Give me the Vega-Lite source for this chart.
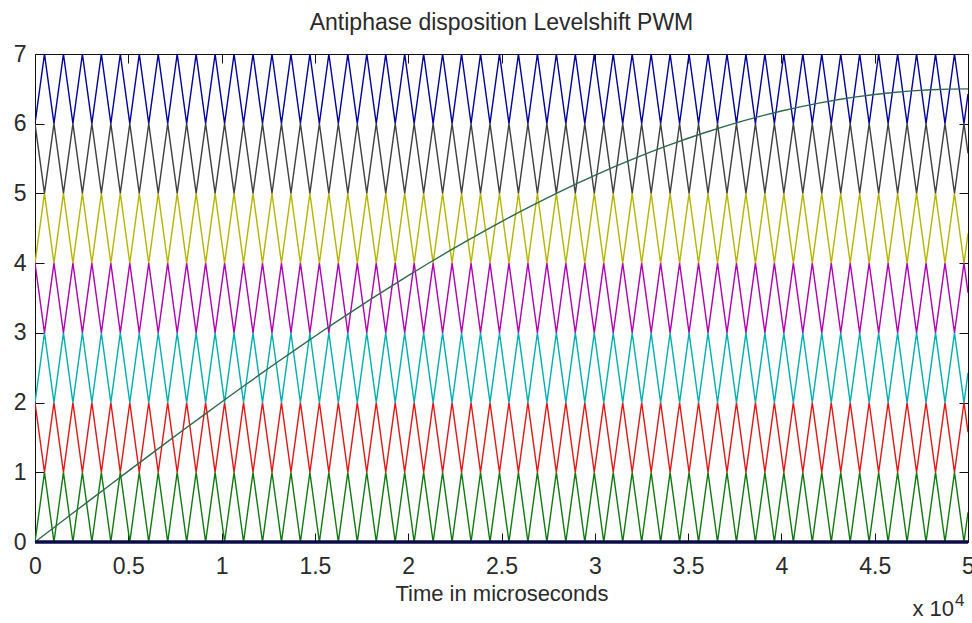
{
  "$schema": "https://vega.github.io/schema/vega-lite/v6.json",
  "width": 933,
  "height": 488,
  "autosize": {"type": "none"},
  "padding": {"left": 35, "top": 54, "right": 4, "bottom": 81},
  "background": "white",
  "config": {
    "view": {"stroke": "#111", "strokeWidth": 1},
    "font": "Liberation Sans",
    "axis": {"grid": false, "labelFont": "Liberation Sans", "titleFont": "Liberation Sans", "labelColor": "#2a2a2a", "titleColor": "#2a2a2a", "tickColor": "#111", "domain": false}
  },
  "title": {"text": "Antiphase disposition Levelshift PWM", "fontSize": 23, "fontWeight": "normal", "color": "#2a2a2a", "font": "Liberation Sans", "anchor": "middle", "offset": 8},
  "datasets": {
    "carriers": [
      {"t":0,"a":0,"b":2,"c":2,"d":4,"e":4,"f":6,"g":6},
      {"t":508,"a":1,"b":1,"c":3,"d":3,"e":5,"f":5,"g":7},
      {"t":1016,"a":0,"b":2,"c":2,"d":4,"e":4,"f":6,"g":6},
      {"t":1524,"a":1,"b":1,"c":3,"d":3,"e":5,"f":5,"g":7},
      {"t":2032,"a":0,"b":2,"c":2,"d":4,"e":4,"f":6,"g":6},
      {"t":2540,"a":1,"b":1,"c":3,"d":3,"e":5,"f":5,"g":7},
      {"t":3048,"a":0,"b":2,"c":2,"d":4,"e":4,"f":6,"g":6},
      {"t":3556,"a":1,"b":1,"c":3,"d":3,"e":5,"f":5,"g":7},
      {"t":4064,"a":0,"b":2,"c":2,"d":4,"e":4,"f":6,"g":6},
      {"t":4572,"a":1,"b":1,"c":3,"d":3,"e":5,"f":5,"g":7},
      {"t":5080,"a":0,"b":2,"c":2,"d":4,"e":4,"f":6,"g":6},
      {"t":5588,"a":1,"b":1,"c":3,"d":3,"e":5,"f":5,"g":7},
      {"t":6096,"a":0,"b":2,"c":2,"d":4,"e":4,"f":6,"g":6},
      {"t":6604,"a":1,"b":1,"c":3,"d":3,"e":5,"f":5,"g":7},
      {"t":7112,"a":0,"b":2,"c":2,"d":4,"e":4,"f":6,"g":6},
      {"t":7620,"a":1,"b":1,"c":3,"d":3,"e":5,"f":5,"g":7},
      {"t":8128,"a":0,"b":2,"c":2,"d":4,"e":4,"f":6,"g":6},
      {"t":8636,"a":1,"b":1,"c":3,"d":3,"e":5,"f":5,"g":7},
      {"t":9144,"a":0,"b":2,"c":2,"d":4,"e":4,"f":6,"g":6},
      {"t":9652,"a":1,"b":1,"c":3,"d":3,"e":5,"f":5,"g":7},
      {"t":10160,"a":0,"b":2,"c":2,"d":4,"e":4,"f":6,"g":6},
      {"t":10668,"a":1,"b":1,"c":3,"d":3,"e":5,"f":5,"g":7},
      {"t":11176,"a":0,"b":2,"c":2,"d":4,"e":4,"f":6,"g":6},
      {"t":11684,"a":1,"b":1,"c":3,"d":3,"e":5,"f":5,"g":7},
      {"t":12192,"a":0,"b":2,"c":2,"d":4,"e":4,"f":6,"g":6},
      {"t":12700,"a":1,"b":1,"c":3,"d":3,"e":5,"f":5,"g":7},
      {"t":13208,"a":0,"b":2,"c":2,"d":4,"e":4,"f":6,"g":6},
      {"t":13716,"a":1,"b":1,"c":3,"d":3,"e":5,"f":5,"g":7},
      {"t":14224,"a":0,"b":2,"c":2,"d":4,"e":4,"f":6,"g":6},
      {"t":14732,"a":1,"b":1,"c":3,"d":3,"e":5,"f":5,"g":7},
      {"t":15240,"a":0,"b":2,"c":2,"d":4,"e":4,"f":6,"g":6},
      {"t":15748,"a":1,"b":1,"c":3,"d":3,"e":5,"f":5,"g":7},
      {"t":16256,"a":0,"b":2,"c":2,"d":4,"e":4,"f":6,"g":6},
      {"t":16764,"a":1,"b":1,"c":3,"d":3,"e":5,"f":5,"g":7},
      {"t":17272,"a":0,"b":2,"c":2,"d":4,"e":4,"f":6,"g":6},
      {"t":17780,"a":1,"b":1,"c":3,"d":3,"e":5,"f":5,"g":7},
      {"t":18288,"a":0,"b":2,"c":2,"d":4,"e":4,"f":6,"g":6},
      {"t":18796,"a":1,"b":1,"c":3,"d":3,"e":5,"f":5,"g":7},
      {"t":19304,"a":0,"b":2,"c":2,"d":4,"e":4,"f":6,"g":6},
      {"t":19812,"a":1,"b":1,"c":3,"d":3,"e":5,"f":5,"g":7},
      {"t":20320,"a":0,"b":2,"c":2,"d":4,"e":4,"f":6,"g":6},
      {"t":20828,"a":1,"b":1,"c":3,"d":3,"e":5,"f":5,"g":7},
      {"t":21336,"a":0,"b":2,"c":2,"d":4,"e":4,"f":6,"g":6},
      {"t":21844,"a":1,"b":1,"c":3,"d":3,"e":5,"f":5,"g":7},
      {"t":22352,"a":0,"b":2,"c":2,"d":4,"e":4,"f":6,"g":6},
      {"t":22860,"a":1,"b":1,"c":3,"d":3,"e":5,"f":5,"g":7},
      {"t":23368,"a":0,"b":2,"c":2,"d":4,"e":4,"f":6,"g":6},
      {"t":23876,"a":1,"b":1,"c":3,"d":3,"e":5,"f":5,"g":7},
      {"t":24384,"a":0,"b":2,"c":2,"d":4,"e":4,"f":6,"g":6},
      {"t":24892,"a":1,"b":1,"c":3,"d":3,"e":5,"f":5,"g":7},
      {"t":25400,"a":0,"b":2,"c":2,"d":4,"e":4,"f":6,"g":6},
      {"t":25908,"a":1,"b":1,"c":3,"d":3,"e":5,"f":5,"g":7},
      {"t":26416,"a":0,"b":2,"c":2,"d":4,"e":4,"f":6,"g":6},
      {"t":26924,"a":1,"b":1,"c":3,"d":3,"e":5,"f":5,"g":7},
      {"t":27432,"a":0,"b":2,"c":2,"d":4,"e":4,"f":6,"g":6},
      {"t":27940,"a":1,"b":1,"c":3,"d":3,"e":5,"f":5,"g":7},
      {"t":28448,"a":0,"b":2,"c":2,"d":4,"e":4,"f":6,"g":6},
      {"t":28956,"a":1,"b":1,"c":3,"d":3,"e":5,"f":5,"g":7},
      {"t":29464,"a":0,"b":2,"c":2,"d":4,"e":4,"f":6,"g":6},
      {"t":29972,"a":1,"b":1,"c":3,"d":3,"e":5,"f":5,"g":7},
      {"t":30480,"a":0,"b":2,"c":2,"d":4,"e":4,"f":6,"g":6},
      {"t":30988,"a":1,"b":1,"c":3,"d":3,"e":5,"f":5,"g":7},
      {"t":31496,"a":0,"b":2,"c":2,"d":4,"e":4,"f":6,"g":6},
      {"t":32004,"a":1,"b":1,"c":3,"d":3,"e":5,"f":5,"g":7},
      {"t":32512,"a":0,"b":2,"c":2,"d":4,"e":4,"f":6,"g":6},
      {"t":33020,"a":1,"b":1,"c":3,"d":3,"e":5,"f":5,"g":7},
      {"t":33528,"a":0,"b":2,"c":2,"d":4,"e":4,"f":6,"g":6},
      {"t":34036,"a":1,"b":1,"c":3,"d":3,"e":5,"f":5,"g":7},
      {"t":34544,"a":0,"b":2,"c":2,"d":4,"e":4,"f":6,"g":6},
      {"t":35052,"a":1,"b":1,"c":3,"d":3,"e":5,"f":5,"g":7},
      {"t":35560,"a":0,"b":2,"c":2,"d":4,"e":4,"f":6,"g":6},
      {"t":36068,"a":1,"b":1,"c":3,"d":3,"e":5,"f":5,"g":7},
      {"t":36576,"a":0,"b":2,"c":2,"d":4,"e":4,"f":6,"g":6},
      {"t":37084,"a":1,"b":1,"c":3,"d":3,"e":5,"f":5,"g":7},
      {"t":37592,"a":0,"b":2,"c":2,"d":4,"e":4,"f":6,"g":6},
      {"t":38100,"a":1,"b":1,"c":3,"d":3,"e":5,"f":5,"g":7},
      {"t":38608,"a":0,"b":2,"c":2,"d":4,"e":4,"f":6,"g":6},
      {"t":39116,"a":1,"b":1,"c":3,"d":3,"e":5,"f":5,"g":7},
      {"t":39624,"a":0,"b":2,"c":2,"d":4,"e":4,"f":6,"g":6},
      {"t":40132,"a":1,"b":1,"c":3,"d":3,"e":5,"f":5,"g":7},
      {"t":40640,"a":0,"b":2,"c":2,"d":4,"e":4,"f":6,"g":6},
      {"t":41148,"a":1,"b":1,"c":3,"d":3,"e":5,"f":5,"g":7},
      {"t":41656,"a":0,"b":2,"c":2,"d":4,"e":4,"f":6,"g":6},
      {"t":42164,"a":1,"b":1,"c":3,"d":3,"e":5,"f":5,"g":7},
      {"t":42672,"a":0,"b":2,"c":2,"d":4,"e":4,"f":6,"g":6},
      {"t":43180,"a":1,"b":1,"c":3,"d":3,"e":5,"f":5,"g":7},
      {"t":43688,"a":0,"b":2,"c":2,"d":4,"e":4,"f":6,"g":6},
      {"t":44196,"a":1,"b":1,"c":3,"d":3,"e":5,"f":5,"g":7},
      {"t":44704,"a":0,"b":2,"c":2,"d":4,"e":4,"f":6,"g":6},
      {"t":45212,"a":1,"b":1,"c":3,"d":3,"e":5,"f":5,"g":7},
      {"t":45720,"a":0,"b":2,"c":2,"d":4,"e":4,"f":6,"g":6},
      {"t":46228,"a":1,"b":1,"c":3,"d":3,"e":5,"f":5,"g":7},
      {"t":46736,"a":0,"b":2,"c":2,"d":4,"e":4,"f":6,"g":6},
      {"t":47244,"a":1,"b":1,"c":3,"d":3,"e":5,"f":5,"g":7},
      {"t":47752,"a":0,"b":2,"c":2,"d":4,"e":4,"f":6,"g":6},
      {"t":48260,"a":1,"b":1,"c":3,"d":3,"e":5,"f":5,"g":7},
      {"t":48768,"a":0,"b":2,"c":2,"d":4,"e":4,"f":6,"g":6},
      {"t":49276,"a":1,"b":1,"c":3,"d":3,"e":5,"f":5,"g":7},
      {"t":49784,"a":0,"b":2,"c":2,"d":4,"e":4,"f":6,"g":6},
      {"t":50000,"a":0.425,"b":1.575,"c":2.425,"d":3.575,"e":4.425,"f":5.575,"g":6.425}
    ],
    "ref": [
      {"t":0,"v":0},{"t":1000,"v":0.2042},{"t":2000,"v":0.4081},{"t":3000,"v":0.6117},{"t":4000,"v":0.8147},
      {"t":5000,"v":1.0168},{"t":6000,"v":1.218},{"t":7000,"v":1.4179},{"t":8000,"v":1.6165},{"t":9000,"v":1.8134},
      {"t":10000,"v":2.0086},{"t":11000,"v":2.2018},{"t":12000,"v":2.3928},{"t":13000,"v":2.5815},{"t":14000,"v":2.7676},
      {"t":15000,"v":2.9509},{"t":16000,"v":3.1314},{"t":17000,"v":3.3088},{"t":18000,"v":3.4829},{"t":19000,"v":3.6535},
      {"t":20000,"v":3.8206},{"t":21000,"v":3.9839},{"t":22000,"v":4.1433},{"t":23000,"v":4.2985},{"t":24000,"v":4.4496},
      {"t":25000,"v":4.5962},{"t":26000,"v":4.7383},{"t":27000,"v":4.8757},{"t":28000,"v":5.0083},{"t":29000,"v":5.136},
      {"t":30000,"v":5.2586},{"t":31000,"v":5.376},{"t":32000,"v":5.4881},{"t":33000,"v":5.5948},{"t":34000,"v":5.696},
      {"t":35000,"v":5.7915},{"t":36000,"v":5.8814},{"t":37000,"v":5.9654},{"t":38000,"v":6.0435},{"t":39000,"v":6.1157},
      {"t":40000,"v":6.1819},{"t":41000,"v":6.2419},{"t":42000,"v":6.2958},{"t":43000,"v":6.3435},{"t":44000,"v":6.3849},
      {"t":45000,"v":6.42},{"t":46000,"v":6.4487},{"t":47000,"v":6.4712},{"t":48000,"v":6.4872},{"t":49000,"v":6.4968},
      {"t":50000,"v":6.5}
    ],
    "base": [{"t":0,"v":0},{"t":50000,"v":0}],
    "note": [{"t":50000,"v":0,"label":"x 10","sup":"4"}]
  },
  "layer": [
    {
      "data": {"name": "carriers"},
      "transform": [{"fold": ["a","b","c","d","e","f","g"], "as": ["band","v"]}],
      "mark": {"type": "line", "strokeWidth": 1.4, "clip": true},
      "encoding": {
        "x": {"field": "t", "type": "quantitative", "scale": {"domain": [0, 50000], "nice": false, "zero": false},
              "axis": {"orient": "bottom", "values": [0,5000,10000,15000,20000,25000,30000,35000,40000,45000,50000],
                       "labelExpr": "'' + datum.value / 10000", "labelFontSize": 23, "labelFlush": false,
                       "tickSize": -9, "labelPadding": 22, "title": "Time in microseconds", "titleFontSize": 22,
                       "titleFontWeight": "normal", "titlePadding": 5}},
        "y": {"field": "v", "type": "quantitative", "scale": {"domain": [0, 7], "nice": false, "zero": false},
              "axis": {"orient": "left", "values": [0,1,2,3,4,5,6,7], "labelFontSize": 23, "labelFlush": false,
                       "tickSize": -9, "labelPadding": 18, "title": null}},
        "color": {"field": "band", "type": "nominal", "legend": null,
                  "scale": {"domain": ["a","b","c","d","e","f","g"],
                            "range": ["#107a10", "#e01818", "#00b0b0", "#b000b0", "#b5b500", "#404040", "#00009c"]}}
      }
    },
    {
      "data": {"name": "ref"},
      "mark": {"type": "line", "strokeWidth": 1.4, "color": "#2f6a4c"},
      "encoding": {
        "x": {"field": "t", "type": "quantitative",
              "axis": {"orient": "top", "values": [0,5000,10000,15000,20000,25000,30000,35000,40000,45000,50000],
                       "labels": false, "tickSize": -9, "title": null}},
        "y": {"field": "v", "type": "quantitative",
              "axis": {"orient": "right", "values": [0,1,2,3,4,5,6,7], "labels": false, "tickSize": -9, "title": null}}
      }
    },
    {
      "data": {"name": "base"},
      "mark": {"type": "line", "strokeWidth": 3.5, "color": "#0c0c4a"},
      "encoding": {
        "x": {"field": "t", "type": "quantitative", "axis": null},
        "y": {"field": "v", "type": "quantitative", "axis": null}
      }
    },
    {
      "data": {"name": "note"},
      "mark": {"type": "text", "align": "right", "baseline": "alphabetic", "dx": -14, "dy": 74, "fontSize": 22, "font": "Liberation Sans", "color": "#2a2a2a"},
      "encoding": {
        "x": {"field": "t", "type": "quantitative", "axis": null},
        "y": {"field": "v", "type": "quantitative", "axis": null},
        "text": {"field": "label"}
      }
    },
    {
      "data": {"name": "note"},
      "mark": {"type": "text", "align": "left", "baseline": "alphabetic", "dx": -13, "dy": 64, "fontSize": 17, "font": "Liberation Sans", "color": "#2a2a2a"},
      "encoding": {
        "x": {"field": "t", "type": "quantitative", "axis": null},
        "y": {"field": "v", "type": "quantitative", "axis": null},
        "text": {"field": "sup"}
      }
    }
  ],
  "resolve": {"axis": {"x": "independent", "y": "independent"}}
}
